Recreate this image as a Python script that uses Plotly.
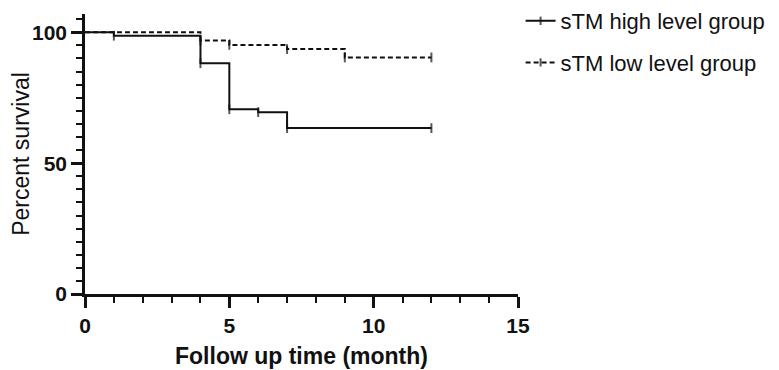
import plotly.graph_objects as go

# Data (Kaplan-Meier style step curves)
high_time = [0, 1, 4, 5, 6, 7, 12]
high_surv = [100, 98.7, 88.2, 70.6, 69.5, 63.4, 63.4]
low_time = [0, 4, 5, 7, 9, 12]
low_surv = [100, 96.9, 95.2, 93.6, 90.4, 90.4]
series_names = ["sTM high level group", "sTM low level group"]

FONT = "Liberation Sans, Arial, Helvetica, sans-serif"
INK = "#111111"

def censor_sizes(times):
    # no tick at the starting point, ticks at every later point
    return [0 if t == 0 else 7 for t in times]

fig = go.Figure()
fig.add_trace(go.Scatter(
    x=high_time, y=high_surv, name=series_names[0], legendgroup="a",
    mode="lines+markers", line=dict(shape="hv", color=INK, width=2),
    marker=dict(symbol="line-ns", size=censor_sizes(high_time),
                line=dict(color=INK, width=2), color=INK),
))
fig.add_trace(go.Scatter(
    x=low_time, y=low_surv, name=series_names[1], legendgroup="b",
    mode="lines+markers", line=dict(shape="hv", color=INK, width=2, dash="5px,3px"),
    marker=dict(symbol="line-ns", size=censor_sizes(low_time),
                line=dict(color=INK, width=2), color=INK),
))

fig.update_layout(
    width=771, height=362,
    margin=dict(l=77, r=261, t=6, b=76, autoexpand=False),
    paper_bgcolor="white", plot_bgcolor="white",
    font=dict(family=FONT, color=INK),
    showlegend=True,
    legend=dict(x=1.006, xanchor="left", y=1.05, yanchor="top",
                font=dict(size=22, family=FONT, color=INK),
                tracegroupgap=10, bgcolor="rgba(0,0,0,0)"),
    xaxis=dict(
        range=[0, 15], tick0=0, dtick=5, automargin=False,
        showgrid=False, zeroline=False,
        showline=True, linecolor=INK, linewidth=2.5,
        ticks="outside", ticklen=11, tickwidth=2.5, tickcolor=INK,
        tickfont=dict(size=21, family=FONT, color=INK, weight="bold"),
        minor=dict(dtick=1, ticks="outside", ticklen=6, tickwidth=2, tickcolor=INK, showgrid=False),
        title=dict(text="Follow up time (month)", standoff=12,
                   font=dict(size=23, family=FONT, color=INK, weight="bold")),
    ),
    yaxis=dict(
        range=[0, 107], tick0=0, dtick=50, automargin=False,
        showgrid=False, zeroline=False,
        showline=True, linecolor=INK, linewidth=2.5,
        ticks="outside", ticklen=11, tickwidth=2.5, tickcolor=INK,
        tickfont=dict(size=21, family=FONT, color=INK, weight="bold"),
        minor=dict(dtick=5, ticks="outside", ticklen=6, tickwidth=2, tickcolor=INK, showgrid=False),
        title=dict(text="Percent survival", standoff=5,
                   font=dict(size=23, family=FONT, color=INK)),
    ),
)

fig.write_html("out.html")
